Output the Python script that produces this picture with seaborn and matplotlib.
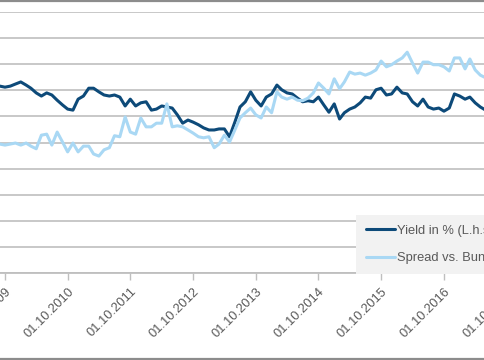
import numpy as np
import pandas as pd
import matplotlib.pyplot as plt
from matplotlib.lines import Line2D
import seaborn as sns

# -----------------------------
# Data (monthly)
# -----------------------------
months = pd.date_range("2009-08-01", periods=96, freq="MS")

yield_pct = [
    3.58, 3.58, 3.56, 3.58, 3.62, 3.66, 3.60, 3.54, 3.45, 3.39, 3.45, 3.41,
    3.31, 3.22, 3.14, 3.12, 3.33, 3.39, 3.54, 3.54, 3.47, 3.41, 3.39, 3.41,
    3.37, 3.20, 3.33, 3.20, 3.26, 3.28, 3.12, 3.14, 3.20, 3.18, 3.16, 3.03,
    2.87, 2.93, 2.89, 2.84, 2.78, 2.74, 2.74, 2.76, 2.76, 2.61, 2.89, 3.18,
    3.28, 3.47, 3.31, 3.20, 3.37, 3.43, 3.60, 3.51, 3.45, 3.43, 3.35, 3.28,
    3.30, 3.28, 3.37, 3.22, 3.08, 3.24, 2.95, 3.07, 3.14, 3.18, 3.26, 3.37,
    3.35, 3.51, 3.54, 3.41, 3.43, 3.56, 3.45, 3.43, 3.28, 3.20, 3.33, 3.18,
    3.14, 3.16, 3.10, 3.16, 3.43, 3.39, 3.33, 3.37, 3.26, 3.18, 3.12, 3.08,
]

spread_bp = [
    247, 247, 245, 247, 249, 245, 249, 243, 238, 264, 266, 245,
    270, 251, 232, 249, 232, 243, 243, 228, 224, 236, 240, 263,
    261, 299, 270, 266, 297, 280, 280, 287, 287, 324, 280, 282,
    280, 274, 268, 261, 259, 261, 240, 247, 264, 251, 274, 297,
    307, 316, 303, 297, 318, 307, 347, 337, 333, 337, 331, 330,
    335, 345, 364, 354, 343, 372, 353, 366, 385, 381, 383, 379,
    383, 389, 406, 395, 399, 406, 412, 423, 402, 383, 404, 404,
    399, 399, 395, 387, 412, 412, 391, 410, 389, 379, 374, 370,
]

tick_dates = pd.to_datetime([f"{y}-10-01" for y in range(2009, 2018)])
tick_labels = [d.strftime("%d.%m.%Y") for d in tick_dates]

dark_blue = "#0d4a79"
light_blue = "#a9d8f4"
text_grey = "#595959"

# -----------------------------
# Figure
# -----------------------------
sns.set_theme(style="white")
plt.rcParams["font.family"] = ["Liberation Sans", "DejaVu Sans"]

# the picture is a crop of a wider chart, so the axes runs past the right edge
fig = plt.figure(figsize=(4.85, 3.6), dpi=100)
ax = fig.add_axes([0, 87 / 360, 600 / 485, 261 / 360])

sns.lineplot(x=months, y=yield_pct, ax=ax, color=dark_blue, linewidth=2.2)
ax.set_ylim(0, 5)
ax.set_yticks(np.arange(0, 5.01, 0.5))
ax.yaxis.grid(True, color="#c4c4c4", linewidth=1.3)
ax.set_axisbelow(True)

ax2 = ax.twinx()
sns.lineplot(x=months, y=spread_bp, ax=ax2, color=light_blue, linewidth=2.2)
ax2.set_ylim(0, 500)
ax2.set_yticks([])

ax.set_xticks(tick_dates)
ax.set_xticklabels(tick_labels, rotation=45, ha="right", va="top",
                   rotation_mode="anchor", color=text_grey, fontsize=9.3)
# 01.10.2009 sits ~5 px from the left edge, 62.7 px per year (0.17166 px/day)
start = pd.Timestamp("2009-10-01")
ax.set_xlim(start - pd.Timedelta(days=29), start + pd.Timedelta(days=3466))

ax.tick_params(axis="x", bottom=True, length=5, width=1, color="#bfbfbf", pad=4)
ax.tick_params(axis="y", left=False, labelleft=False)
ax.set_xlabel("")
ax.set_ylabel("")
ax2.set_ylabel("")

for a in (ax, ax2):
    for side in ("left", "right", "top"):
        a.spines[side].set_visible(False)
ax.spines["bottom"].set_color("#bfbfbf")
ax.spines["bottom"].set_linewidth(1.3)
ax2.spines["bottom"].set_visible(False)

# Legend
handles = [Line2D([], [], color=dark_blue, lw=2.2),
           Line2D([], [], color=light_blue, lw=2.2)]
labels = ["Yield in % (L.h.s.)", "Spread vs. Bund (R.h.s.)"]
leg = fig.legend(handles, labels, loc="upper left",
                 bbox_to_anchor=(356 / 485, 1 - 215 / 360),
                 frameon=True, facecolor="#f2f2f2", edgecolor="none",
                 fancybox=False, framealpha=1, fontsize=9.3,
                 handlelength=2.3, handletextpad=0.15, borderpad=0.75,
                 labelspacing=1.2, borderaxespad=0)
for t in leg.get_texts():
    t.set_color(text_grey)

# Outer chart frame (top and bottom edges visible in the crop)
for yy in (1 - 0.8 / 360, 0.8 / 360):
    fig.add_artist(Line2D([0, 1], [yy, yy], transform=fig.transFigure,
                          color="#8c8c8c", lw=1.6))

plt.savefig("out.png", dpi=100)
